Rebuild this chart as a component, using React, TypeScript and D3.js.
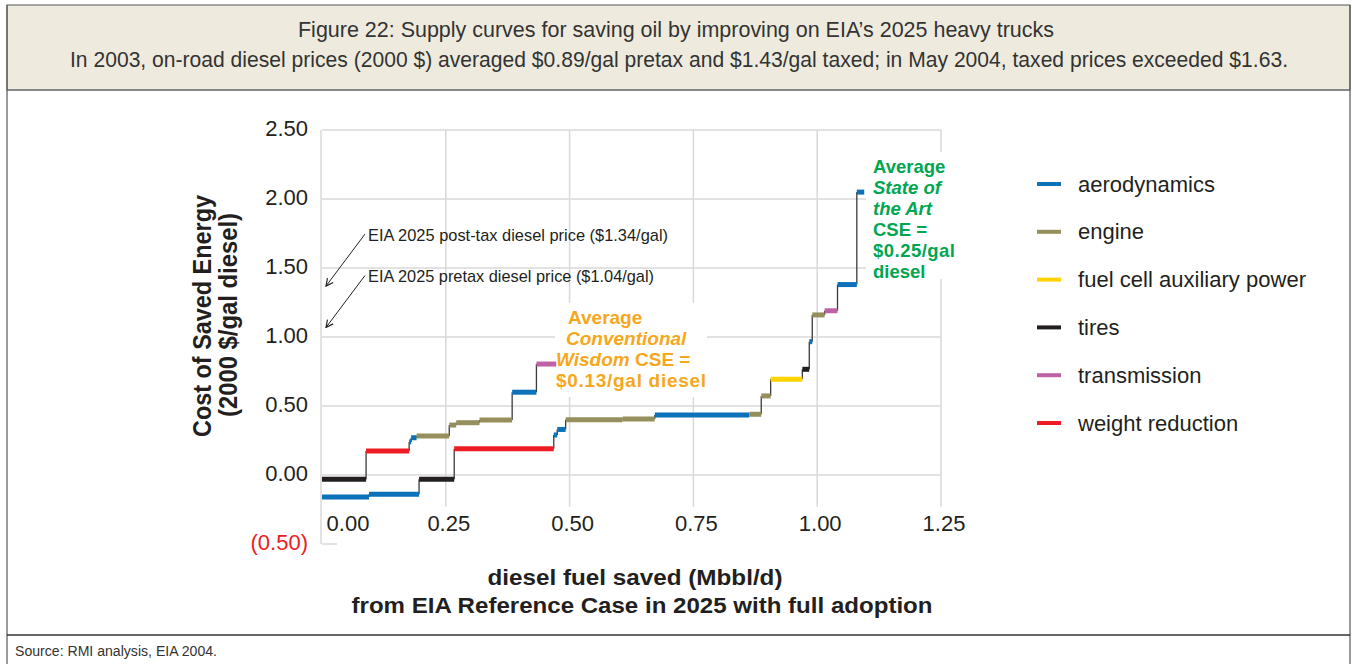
import React from "react";
import * as d3 from "d3";

// ---------- DATA ----------
const categories = ["aerodynamics", "engine", "fuel cell auxiliary power", "tires", "transmission", "weight reduction"];
const categoryColors = ["#0B72B9", "#958F5D", "#FFD200", "#231F20", "#BD62A6", "#ED1C24"];

// "State of the Art" supply curve (cumulative diesel saved, Mbbl/d)
const stateBreaks = [0, 0.095, 0.196, 0.267, 0.468, 0.475, 0.492, 0.607, 0.672, 0.863, 0.887, 0.906, 0.970, 0.984, 0.990, 1.015, 1.041, 1.080, 1.095];
const stateValues = [-0.16, -0.14, -0.03, 0.19, 0.29, 0.33, 0.40, 0.405, 0.435, 0.44, 0.573, 0.693, 0.766, 0.966, 1.16, 1.19, 1.38, 2.05];
const stateCats = ["aerodynamics", "aerodynamics", "tires", "weight reduction", "aerodynamics", "aerodynamics", "engine", "engine", "aerodynamics", "engine", "engine", "fuel cell auxiliary power", "tires", "aerodynamics", "engine", "transmission", "aerodynamics", "aerodynamics"];

// "Conventional Wisdom" supply curve
const convBreaks = [0, 0.089, 0.176, 0.180, 0.191, 0.257, 0.271, 0.318, 0.384, 0.433, 0.473];
const convValues = [-0.03, 0.174, 0.24, 0.27, 0.283, 0.362, 0.379, 0.398, 0.60, 0.804];
const convCats = ["tires", "weight reduction", "aerodynamics", "aerodynamics", "engine", "engine", "engine", "engine", "aerodynamics", "transmission"];

const yTicks = [-0.5, 0, 0.5, 1.0, 1.5, 2.0, 2.5];
const xTicks = [0, 0.25, 0.5, 0.75, 1.0, 1.25];

const priceValues = [1.34, 1.04];
const priceLabels = ["EIA 2025 post-tax diesel price ($1.34/gal)", "EIA 2025 pretax diesel price ($1.04/gal)"];

const titleLines = [
  "Figure 22: Supply curves for saving oil by improving on EIA\u2019s 2025 heavy trucks",
  "In 2003, on-road diesel prices (2000 $) averaged $0.89/gal pretax and $1.43/gal taxed; in May 2004, taxed prices exceeded $1.63.",
];

// ---------- LAYOUT ----------
const W = 1352;
const H = 664;
const x = d3.scaleLinear().domain([0, 1.25]).range([322, 941]);
const y = d3.scaleLinear().domain([-0.5, 2.5]).range([544, 130]);
const color = d3.scaleOrdinal<string, string>().domain(categories).range(categoryColors);

const condensed = "'Liberation Sans Narrow', 'Liberation Sans', Arial, sans-serif";
const sans = "'Liberation Sans', Arial, Helvetica, sans-serif";
const GRID = "#d9d9d9";

function Curve({ breaks, values, cats }: { breaks: number[]; values: number[]; cats: string[] }) {
  const connectors = values.slice(1).map((v, i) => ({ xv: breaks[i + 1], a: values[i], b: v }));
  return (
    <g>
      {connectors.map((c, i) => (
        <line key={"c" + i} x1={x(c.xv)} x2={x(c.xv)} y1={y(c.a)} y2={y(c.b)} stroke="#3a3a3a" strokeWidth={1.3} />
      ))}
      {values.map((v, i) => (
        <line
          key={"s" + i}
          x1={x(breaks[i])}
          x2={x(breaks[i + 1])}
          y1={y(v)}
          y2={y(v)}
          stroke={color(cats[i])}
          strokeWidth={5}
        />
      ))}
    </g>
  );
}

export default function App() {
  const fmt = (v: number) => (v < 0 ? `(${Math.abs(v).toFixed(2)})` : v.toFixed(2));
  return (
    <svg width={W} height={H} style={{ position: "absolute", left: 0, top: 0, background: "#fff" }} xmlns="http://www.w3.org/2000/svg">
      <defs>
        <marker id="arr" viewBox="0 0 10 10" refX="9" refY="5" markerWidth="9" markerHeight="9" orient="auto-start-reverse" markerUnits="userSpaceOnUse">
          <path d="M1,1 L9,5 L1,9" fill="none" stroke="#222" strokeWidth={1.3} />
        </marker>
      </defs>

      {/* Frame */}
      <rect x={7} y={5} width={1343} height={85} fill="#EEEBDE" stroke="#555" strokeWidth={1} />
      <line x1={7} x2={1350} y1={90} y2={90} stroke="#888" strokeWidth={2} />
      <line x1={7} x2={7} y1={5} y2={H} stroke="#555" strokeWidth={1.2} />
      <line x1={1350} x2={1350} y1={5} y2={H} stroke="#555" strokeWidth={1.2} />
      <line x1={7} x2={1350} y1={635} y2={635} stroke="#333" strokeWidth={1.3} />

      {/* Title */}
      <text x={676} y={37} textAnchor="middle" fontFamily={condensed} fontSize={22} fill="#333" textLength={756} lengthAdjust="spacingAndGlyphs">
        {titleLines[0]}
      </text>
      <text x={679} y={67} textAnchor="middle" fontFamily={condensed} fontSize={22} fill="#333" textLength={1218} lengthAdjust="spacingAndGlyphs">
        {titleLines[1]}
      </text>

      {/* Source */}
      <text x={15} y={656} fontFamily={condensed} fontSize={14} fill="#333" textLength={202} lengthAdjust="spacingAndGlyphs">
        Source: RMI analysis, EIA 2004.
      </text>

      {/* Gridlines */}
      <g>
        {yTicks.filter((v) => v >= 0).map((v) => (
          <line key={"hg" + v} x1={x(0)} x2={x(1.25)} y1={y(v)} y2={y(v)} stroke={GRID} strokeWidth={1.5} />
        ))}
        <line x1={x(0)} x2={x(0) + 15} y1={y(-0.5)} y2={y(-0.5)} stroke={GRID} strokeWidth={1.5} />
        {xTicks.filter((v) => v > 0).map((v) => (
          <line key={"vg" + v} x1={x(v)} x2={x(v)} y1={y(2.5)} y2={y(-0.23)} stroke={GRID} strokeWidth={1.5} />
        ))}
        <line x1={x(0) - 1} x2={x(0) - 1} y1={y(2.5)} y2={y(-0.5)} stroke={GRID} strokeWidth={1.5} />
      </g>

      {/* White label boxes that mask gridlines */}
      <rect x={555} y={303} width={152} height={94} fill="#fff" />
      <rect x={866} y={152} width={140} height={127} fill="#fff" />

      {/* Y tick labels */}
      {yTicks.map((v) => (
        <text key={"yl" + v} x={308} y={y(v) + 6} textAnchor="end" fontFamily={sans} fontSize={22} fill={v < 0 ? "#ED1C24" : "#231F20"}>
          {fmt(v)}
        </text>
      ))}

      {/* X tick labels */}
      {xTicks.map((v) => (
        <text key={"xl" + v} x={x(v) + (v === 0 ? 26 : 3)} y={531} textAnchor="middle" fontFamily={sans} fontSize={22} fill="#231F20">
          {v.toFixed(2)}
        </text>
      ))}

      {/* Axis titles */}
      <g transform="translate(211,316) rotate(-90)">
        <text x={0} y={0} textAnchor="middle" fontFamily={sans} fontWeight="bold" fontSize={25} fill="#231F20" textLength={242} lengthAdjust="spacingAndGlyphs">
          Cost of Saved Energy
        </text>
      </g>
      <g transform="translate(237,315) rotate(-90)">
        <text x={0} y={0} textAnchor="middle" fontFamily={sans} fontWeight="bold" fontSize={25} fill="#231F20" textLength={204} lengthAdjust="spacingAndGlyphs">
          (2000 $/gal diesel)
        </text>
      </g>
      <text x={635} y={585} textAnchor="middle" fontFamily={sans} fontWeight="bold" fontSize={22} fill="#231F20" textLength={295} lengthAdjust="spacingAndGlyphs">
        diesel fuel saved (Mbbl/d)
      </text>
      <text x={642} y={613} textAnchor="middle" fontFamily={sans} fontWeight="bold" fontSize={22} fill="#231F20" textLength={581} lengthAdjust="spacingAndGlyphs">
        from EIA Reference Case in 2025 with full adoption
      </text>

      {/* Price annotations */}
      {priceValues.map((p, i) => {
        const tipY = y(p) - 4;
        const startY = tipY - 52;
        return (
          <g key={"p" + i}>
            <line x1={365} y1={startY} x2={x(0) + 4} y2={tipY} stroke="#222" strokeWidth={1} markerEnd="url(#arr)" />
            <text x={368} y={startY + 7} fontFamily={condensed} fontSize={17} fill="#231F20" textLength={i === 0 ? 300 : 286} lengthAdjust="spacingAndGlyphs">
              {priceLabels[i]}
            </text>
          </g>
        );
      })}

      {/* Supply curves */}
      <Curve breaks={convBreaks} values={convValues} cats={convCats} />
      <Curve breaks={stateBreaks} values={stateValues} cats={stateCats} />

      {/* Conventional Wisdom label */}
      <g fontFamily={sans} fontWeight="bold" fontSize={19} fill="#F6A71C">
        <text x={568} y={324}>Average</text>
        <text x={566} y={345} fontStyle="italic">Conventional</text>
        <text x={556} y={366}>
          <tspan fontStyle="italic">Wisdom</tspan>
          <tspan> CSE =</tspan>
        </text>
        <text x={556} y={387} textLength={150}>$0.13/gal diesel</text>
      </g>

      {/* State of the Art label */}
      <g fontFamily={sans} fontWeight="bold" fontSize={18.5} fill="#00A651">
        <text x={873} y={173}>Average</text>
        <text x={873} y={194} fontStyle="italic">State of</text>
        <text x={873} y={215} fontStyle="italic">the Art</text>
        <text x={873} y={236}>CSE =</text>
        <text x={873} y={257} textLength={82}>$0.25/gal</text>
        <text x={873} y={278}>diesel</text>
      </g>

      {/* Legend */}
      {categories.map((c, i) => {
        const ly = 184 + i * 47.8;
        return (
          <g key={"lg" + c}>
            <line x1={1037} x2={1061} y1={ly} y2={ly} stroke={color(c)} strokeWidth={4} />
            <text x={1078} y={ly + 7.5} fontFamily={sans} fontSize={22} fill="#231F20" textLength={c === "fuel cell auxiliary power" ? 228 : undefined}>
              {c}
            </text>
          </g>
        );
      })}
    </svg>
  );
}
